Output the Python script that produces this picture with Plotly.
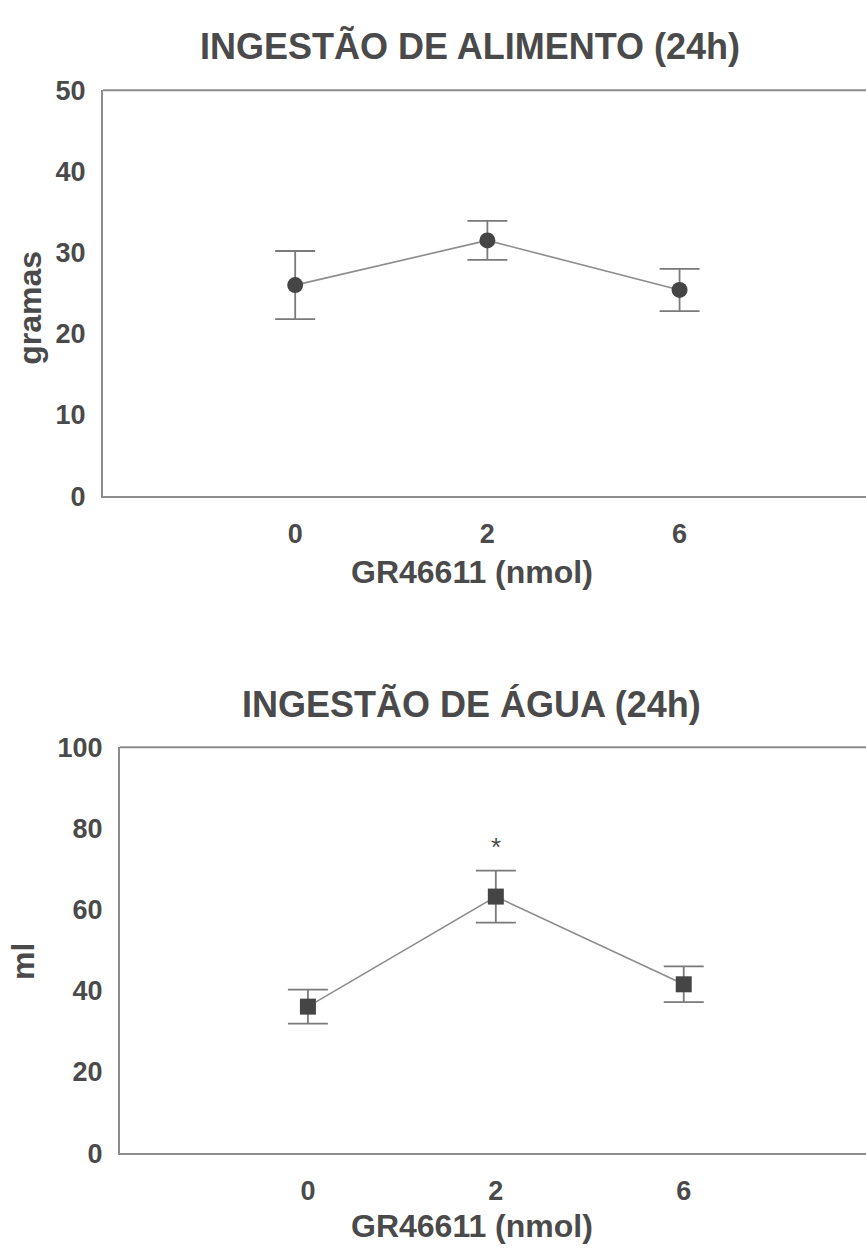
import plotly.graph_objects as go

# GR46611 doses (nmol)
doses = ["0", "2", "6"]

# 24 h food intake (grams): mean and error
food_mean = [26.0, 31.5, 25.4]
food_err = [4.2, 2.4, 2.6]

# 24 h water intake (ml): mean and error
water_mean = [36.1, 63.2, 41.6]
water_err = [4.2, 6.4, 4.4]

# significance marker above the 2 nmol water point
star_y = 75.5

W, H = 866, 1260
FONT = "Liberation Sans, Arial, sans-serif"
TXT = "#4a4a4a"
LINE = "#8c8c8c"
MARK = "#454545"

pos = list(range(len(doses)))
bold_doses = [f"<b>{d}</b>" for d in doses]

fig = go.Figure()

fig.add_trace(go.Scatter(
    x=pos, y=food_mean, mode="lines+markers",
    line=dict(color=LINE, width=1.6),
    marker=dict(symbol="circle", size=16, color=MARK),
    error_y=dict(type="data", array=food_err, visible=True,
                 color="#7a7a7a", thickness=1.8, width=20),
    xaxis="x", yaxis="y", showlegend=False,
))

fig.add_trace(go.Scatter(
    x=pos, y=water_mean, mode="lines+markers",
    line=dict(color=LINE, width=1.6),
    marker=dict(symbol="square", size=16, color=MARK),
    error_y=dict(type="data", array=water_err, visible=True,
                 color="#7a7a7a", thickness=1.8, width=20),
    xaxis="x2", yaxis="y2", showlegend=False,
))

tickfont = dict(family=FONT, size=27, color=TXT)


def xax(domain, anchor):
    return dict(domain=domain, anchor=anchor, range=[-1, 2.97],
                tickmode="array", tickvals=pos, ticktext=bold_doses,
                showline=True, linecolor=LINE, linewidth=2,
                showgrid=False, zeroline=False, ticks="",
                tickfont=tickfont, ticklabelstandoff=12)


def yax(domain, anchor, rng, dtick):
    return dict(domain=domain, anchor=anchor, range=rng, dtick=dtick,
                showline=True, linecolor=LINE, linewidth=2,
                showgrid=False, zeroline=False, ticks="",
                tickprefix="<b>", ticksuffix="</b>",
                tickfont=tickfont, ticklabelstandoff=10)


fig.update_layout(
    width=W, height=H,
    margin=dict(l=0, r=0, t=0, b=0),
    paper_bgcolor="white", plot_bgcolor="white",
    font=dict(family=FONT, color=TXT),
    xaxis=xax([103 / W, 1.0], "y"),
    yaxis=yax([1 - 493 / H, 1 - 77 / H], "x", [0, 50], 10),
    xaxis2=xax([120 / W, 1.0], "y2"),
    yaxis2=yax([1 - 1166 / H, 1 - 750 / H], "x2", [0, 100], 20),
)

# top frame line of each panel
for xr, yr in (("x domain", "y domain"), ("x2 domain", "y2 domain")):
    fig.add_shape(type="line", xref=xr, yref=yr, x0=0, x1=1, y0=1, y1=1,
                  line=dict(color=LINE, width=2))


def note(text, x, y, size, angle=0):
    fig.add_annotation(text=text, x=x / W, y=1 - y / H, xref="paper",
                       yref="paper", showarrow=False, textangle=angle,
                       xanchor="center", yanchor="middle",
                       font=dict(family=FONT, size=size, color=TXT))


note("<b>INGESTÃO DE ALIMENTO (24h)</b>", 470, 32, 36)
note("<b>INGESTÃO DE ÁGUA (24h)</b>", 471, 706, 36)
note("<b>GR46611 (nmol)</b>", 472, 571, 32)
note("<b>GR46611 (nmol)</b>", 472, 1241, 32)
note("<b>gramas</b>", 30, 300, 32, -90)
note("<b>ml</b>", 23, 970, 32, -90)

fig.add_annotation(text="*", x=pos[1], y=star_y, xref="x2", yref="y2",
                   showarrow=False, font=dict(family=FONT, size=26, color=TXT))

fig.write_html("out.html")
